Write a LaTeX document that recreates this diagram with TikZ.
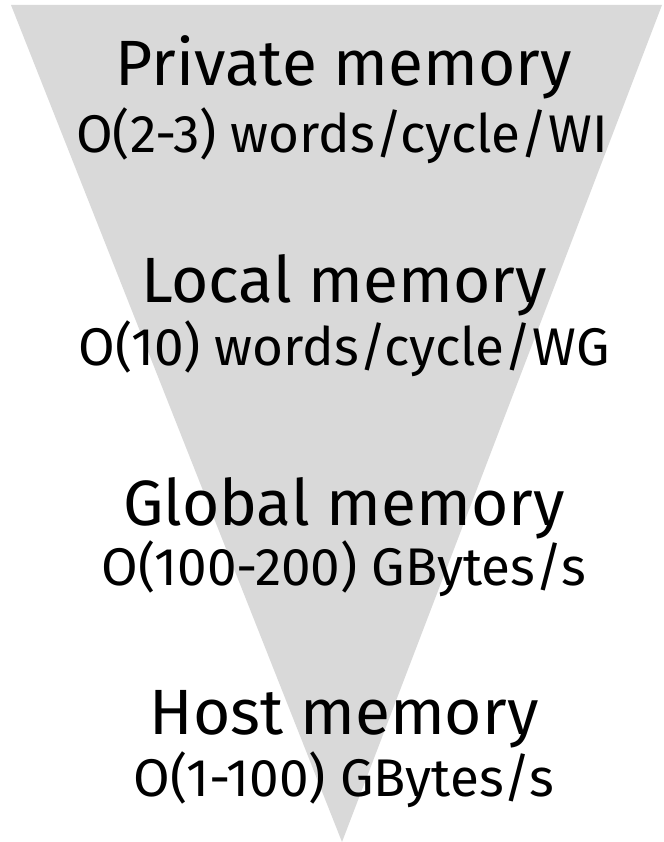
\documentclass[tikz,border=0pt]{standalone}
\usepackage{fontspec}
\setmainfont{Fira Sans}
\definecolor{trigrey}{HTML}{D9D9D9}
\tikzset{
  title/.style={anchor=base, inner sep=0pt, font=\fontsize{64}{68}\selectfont},
  rate/.style={anchor=base, inner sep=0pt, font=\fontsize{53}{57}\selectfont}
}
\begin{document}
\begin{tikzpicture}[x=1pt,y=-1pt]
\useasboundingbox (0,0) rectangle (663,842);
\fill[trigrey] (11,5) -- (662,5) -- (342,842) -- cycle;
\node[title] (t1) at (344,86) {Private memory};
\node[rate]  (r1) at (342,153) {O(2-3) words/cycle/WI};
\node[title] (t2) at (344,302) {Local memory};
\node[rate]  (r2) at (344,365) {O(10) words/cycle/WG};
\node[title] (t3) at (344,525) {Global memory};
\node[rate]  (r3) at (344,585) {O(100-200) GBytes/s};
\node[title] (t4) at (344,734) {Host memory};
\node[rate]  (r4) at (344,796) {O(1-100) GBytes/s};
\end{tikzpicture}
\end{document}
